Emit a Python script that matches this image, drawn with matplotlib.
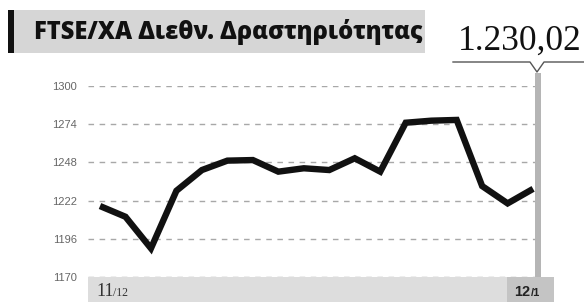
import matplotlib.pyplot as plt
from matplotlib.patches import Rectangle
from matplotlib.lines import Line2D

# Datos (cierre diario)
valores = [1218.3, 1211.0, 1189.5, 1228.7, 1242.8, 1249.2, 1249.6, 1241.7, 1244.0,
           1242.8, 1250.8, 1241.7, 1275.0, 1276.4, 1276.9, 1231.9, 1220.1, 1230.0]
yticks = [1170, 1196, 1222, 1248, 1274, 1300]
titulo = "FTSE/XA Διεθν. Δραστηριότητας"
ultimo = "1.230,02"
fecha_ini = ("11", "/12")
fecha_fin = ("12", "/1")

W, H = 584, 304
fig = plt.figure(figsize=(W / 100, H / 100), dpi=100)


# pasa pixeles (desde arriba a la izquierda) a fraccion de figura
def fx(px):
    return px / W


def fy(py):
    return 1 - py / H


def rect(x0, y0, x1, y1, color):
    fig.add_artist(Rectangle((fx(x0), fy(y1)), fx(x1) - fx(x0), fy(y0) - fy(y1),
                             transform=fig.transFigure, facecolor=color, edgecolor="none"))


# cabecera
rect(14, 10, 425, 53, "#d6d6d6")
rect(8, 10, 14, 53, "#111111")
fig.text(fx(34), fy(32), titulo, fontsize=17, fontweight="heavy", family="Open Sans",
         color="#111111", va="center", ha="left")
fig.text(fx(458), fy(50), ultimo, fontsize=25.5, family="Liberation Serif",
         color="#111111", va="baseline", ha="left")
fig.add_artist(Line2D([fx(453), fx(530), fx(537), fx(544), fx(584)],
                      [fy(62), fy(62), fy(72), fy(62), fy(62)],
                      transform=fig.transFigure, color="#555555", lw=1))

# banda inferior de fechas
rect(88, 277, 507, 302, "#dddddd")
rect(507, 277, 554, 302, "#c4c4c4")
# barra vertical del ultimo dia
rect(535, 73, 541, 277, "#b5b5b5")

fig.text(fx(96), fy(296), fecha_ini[0], fontsize=13, family="Liberation Serif",
         color="#333333", va="baseline")
fig.text(fx(113), fy(296), fecha_ini[1], fontsize=8.5, family="Liberation Serif",
         color="#333333", va="baseline")
fig.text(fx(514), fy(296), fecha_fin[0], fontsize=10.5, fontweight="bold",
         family="Liberation Sans", color="#222222", va="baseline")
fig.text(fx(531), fy(296), fecha_fin[1], fontsize=8, fontweight="bold",
         family="Liberation Sans", color="#222222", va="baseline")

# grafico
ax = fig.add_axes([fx(88), fy(277), fx(541) - fx(88), fy(86) - fy(277)])
x = list(range(len(valores)))
ax.set_xlim(-0.471, 17.31)
ax.set_ylim(yticks[0], yticks[-1])
for t in yticks:
    ax.axhline(t, color="#a8a8a8", lw=1, ls=(0, (4, 4)), zorder=1)
ax.plot(x, valores, color="#111111", lw=4.6, solid_joinstyle="miter",
        solid_capstyle="butt", zorder=3)
ax.set_yticks(yticks)
ax.set_yticklabels([str(t) for t in yticks], fontsize=8, family="Liberation Sans",
                   color="#666666")
ax.tick_params(axis="y", length=0, pad=8)
ax.set_xticks([])
for s in ax.spines.values():
    s.set_visible(False)
ax.patch.set_alpha(0)

fig.savefig("out.png", dpi=100)
